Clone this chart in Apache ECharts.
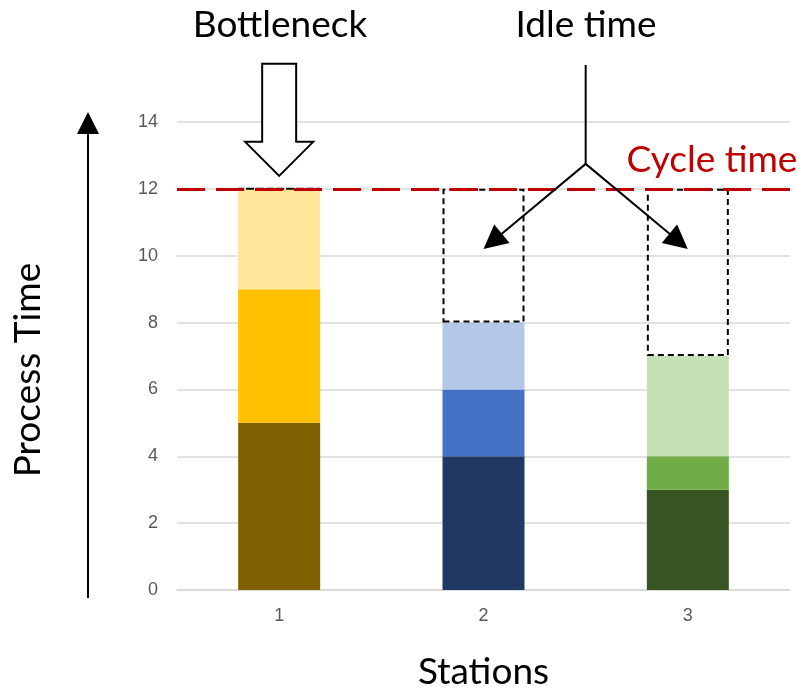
<!DOCTYPE html>
<html>
<head>
<meta charset="utf-8">
<script src="https://cdn.jsdelivr.net/npm/echarts@6/dist/echarts.min.js"></script>
<style>html,body{margin:0;padding:0;background:#fff}#c{width:798px;height:690px}</style>
</head>
<body>
<div id="c"></div>
<script>
// ---- data ----
const categories = ['1', '2', '3'];
const bottomTask = [5, 4, 3];
const middleTask = [4, 2, 1];
const topTask = [3, 2, 3];
const idleTime = [0, 4, 5];
const cycleTime = 12;
const yTicks = [0, 2, 4, 6, 8, 10, 12, 14];

// ---- styles ----
const bottomColors = ['#7F6000', '#203864', '#375623'];
const middleColors = ['#FFC000', '#4472C4', '#70AD47'];
const topColors = ['#FFE699', '#B4C7E7', '#C5E0B4'];
const FONT = 'Lato, "Open Sans", sans-serif';
const BIG = 37;

const chart = echarts.init(document.getElementById('c'), null, { renderer: 'canvas' });

function colored(vals, cols) {
  return vals.map((v, i) => ({ value: v, itemStyle: { color: cols[i] } }));
}

const option = {
  animation: false,
  backgroundColor: '#fff',
  grid: { left: 177, right: 8, top: 122, bottom: 100, containLabel: false, outerBoundsMode: 'none' },
  xAxis: {
    type: 'category',
    data: categories,
    axisLine: { lineStyle: { color: '#d9d9d9', width: 1.5 } },
    axisTick: { show: false },
    axisLabel: { color: '#595959', fontSize: 18, fontFamily: 'Liberation Sans, Arial', margin: 17 },
    name: 'Stations',
    nameLocation: 'middle',
    nameGap: 64,
    nameTextStyle: { color: '#000', fontSize: BIG, fontFamily: FONT }
  },
  yAxis: {
    type: 'value',
    min: yTicks[0],
    max: yTicks[yTicks.length - 1],
    interval: 2,
    axisLine: { show: false },
    axisTick: { show: false },
    splitLine: { lineStyle: { color: '#d9d9d9', width: 1.5 } },
    axisLabel: { color: '#595959', fontSize: 18, fontFamily: 'Liberation Sans, Arial', margin: 19 }
  },
  series: [
    { type: 'bar', stack: 's', barWidth: 82, data: colored(bottomTask, bottomColors) },
    { type: 'bar', stack: 's', barWidth: 82, data: colored(middleTask, middleColors) },
    { type: 'bar', stack: 's', barWidth: 82, data: colored(topTask, topColors) },
    {
      type: 'bar', stack: 's', barWidth: 82,
      data: idleTime,
      itemStyle: { color: 'rgba(0,0,0,0)', borderColor: '#000', borderWidth: 2, borderType: [6, 4] },
      z: 3
    },
    {
      type: 'line',
      data: [],
      z: 10,
      markLine: {
        silent: true,
        symbol: ['none', 'none'],
        label: { show: false },
        lineStyle: { color: '#C00000', width: 3, type: [28, 11] },
        data: [{ yAxis: cycleTime }]
      }
    }
  ]
};
chart.setOption(option);

function px(cat, val) {
  return chart.convertToPixel({ xAxisIndex: 0, yAxisIndex: 0 }, [cat, val]);
}

const c1 = px('1', cycleTime);
const c2 = px('2', cycleTime);
const c3 = px('3', cycleTime);
const cx = c1[0], cy = c1[1];
const vx = (c2[0] + c3[0]) / 2;
const tipL = px('2', 10.2);
const tipR = px('3', 10.2);
const vy = cy - 25;

function arrowHead(from, to, len, half) {
  const dx = to[0] - from[0], dy = to[1] - from[1];
  const L = Math.hypot(dx, dy);
  const ux = dx / L, uy = dy / L;
  const bx = to[0] - ux * len, by = to[1] - uy * len;
  return [to, [bx - uy * half, by + ux * half], [bx + uy * half, by - ux * half]];
}
function shorten(from, to, d) {
  const dx = to[0] - from[0], dy = to[1] - from[1];
  const L = Math.hypot(dx, dy);
  return [to[0] - dx / L * d, to[1] - dy / L * d];
}

const vertex = [vx, vy];
const graphics = [
  // Bottleneck hollow arrow
  {
    type: 'polygon', z: 100,
    shape: { points: [
      [cx - 17, cy - 125], [cx + 17, cy - 125], [cx + 17, cy - 47], [cx + 34, cy - 47],
      [cx, cy - 13], [cx - 34, cy - 47], [cx - 17, cy - 47]
    ] },
    style: { fill: '#fff', stroke: '#000', lineWidth: 2 }
  },
  { type: 'text', z: 100, style: { text: 'Bottleneck', x: 280, y: 25, align: 'center', verticalAlign: 'middle', fontSize: BIG, fontFamily: FONT, fill: '#000' } },
  { type: 'text', z: 100, style: { text: 'Idle time', x: 586, y: 25, align: 'center', verticalAlign: 'middle', fontSize: BIG, fontFamily: FONT, fill: '#000' } },
  { type: 'text', z: 100, style: { text: 'Cycle time', x: 712, y: 160, align: 'center', verticalAlign: 'middle', fontSize: BIG, fontFamily: FONT, fill: '#C00000' } },
  { type: 'text', z: 100, x: 28, y: 370, rotation: Math.PI / 2, style: { text: 'Process Time', x: 0, y: 0, align: 'center', verticalAlign: 'middle', fontSize: BIG, fontFamily: FONT, fill: '#000' } },
  // Idle time arrows
  { type: 'line', z: 100, shape: { x1: vx, y1: 65, x2: vx, y2: vy }, style: { stroke: '#000', lineWidth: 2 } },
  { type: 'polyline', z: 100, shape: { points: [vertex, shorten(vertex, [tipL[0], tipL[1]], 18)] }, style: { stroke: '#000', lineWidth: 2 } },
  { type: 'polyline', z: 100, shape: { points: [vertex, shorten(vertex, [tipR[0], tipR[1]], 18)] }, style: { stroke: '#000', lineWidth: 2 } },
  { type: 'polygon', z: 100, shape: { points: arrowHead(vertex, [tipL[0], tipL[1]], 24, 12) }, style: { fill: '#000' } },
  { type: 'polygon', z: 100, shape: { points: arrowHead(vertex, [tipR[0], tipR[1]], 24, 12) }, style: { fill: '#000' } },
  // Process Time vertical arrow
  { type: 'line', z: 100, shape: { x1: 88, y1: 598, x2: 88, y2: 130 }, style: { stroke: '#000', lineWidth: 2 } },
  { type: 'polygon', z: 100, shape: { points: [[88, 112], [99, 134], [77, 134]] }, style: { fill: '#000' } }
];
chart.setOption({ graphic: graphics });
</script>
</body>
</html>
